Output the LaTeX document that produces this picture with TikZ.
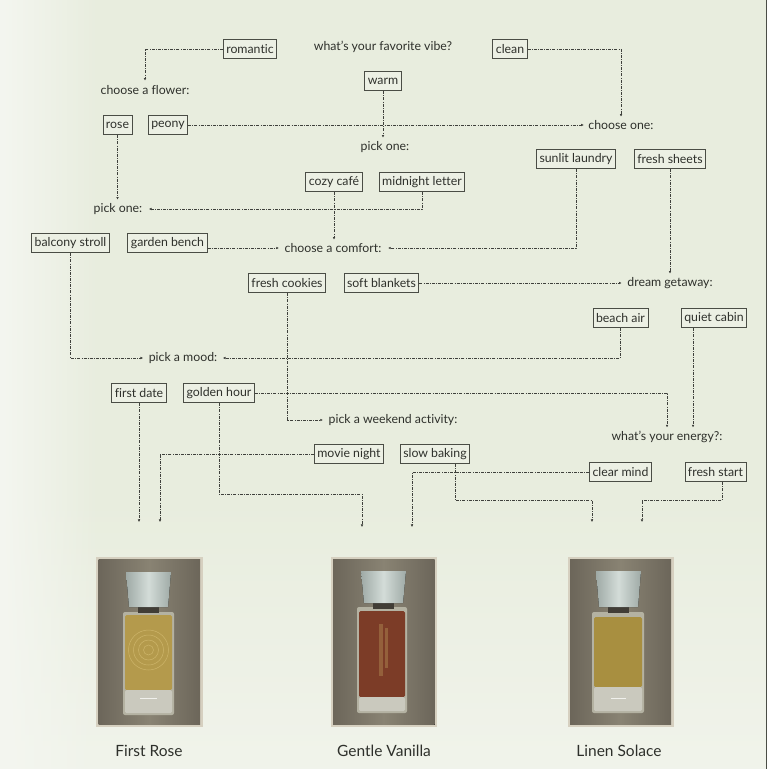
\documentclass[tikz,border=0pt]{standalone}
\usepackage{fontspec}
\setmainfont[Ligatures={TeX,NoCommon}]{Lato}
\usetikzlibrary{arrows.meta,calc,fadings}
\definecolor{bgc}{HTML}{E8EDDE}
\definecolor{bgl}{HTML}{F4F6F0}
\definecolor{txt}{HTML}{2E302B}
\definecolor{boxd}{HTML}{4A4D45}
\definecolor{boxf}{HTML}{ECF0E4}
\definecolor{lnc}{HTML}{3F413C}
\definecolor{frl}{HTML}{D6D0C0}
\definecolor{frd}{HTML}{6C665A}
\definecolor{frm}{HTML}{898373}
\definecolor{capl}{HTML}{D3DCD8}
\definecolor{capd}{HTML}{9FAAA6}
\definecolor{glass}{HTML}{B4B2A2}
\definecolor{gold}{HTML}{B49A4C}
\definecolor{goldl}{HTML}{CDB56A}
\definecolor{vanil}{HTML}{7C3C27}
\definecolor{linen}{HTML}{A88F40}
\tikzset{
  lab/.style={font=\fontsize{12.3}{14}\selectfont, text=txt, inner sep=1.5pt},
  opt/.style={draw=boxd, line width=0.9pt, fill=boxf, font=\fontsize{12.3}{14}\selectfont, text=txt, inner xsep=3pt, inner ysep=0pt, minimum height=19.5pt},
  conn/.style={draw=lnc, line width=0.6pt, dash pattern=on 3pt off 1.2pt on 0.8pt off 1.2pt, -{Latex[length=2.6pt,width=2.6pt]}},
  pname/.style={font=\fontsize{15.5}{18}\selectfont, text=txt, inner sep=1pt},
  outerfr/.style={fill=frl},
  innerfr/.style={left color=frd, right color=frd, middle color=frm},
  capst/.style={left color=capd, right color=capd, middle color=capl},
  glassst/.style={fill=glass, rounded corners=2pt}
}
\begin{document}
\begin{tikzpicture}[x=1pt,y=-1pt]
\useasboundingbox (0,0) rectangle (769,769);
% background
\fill[bgc] (0,0) rectangle (769,769);
\fill[top color=bgc, bottom color=bgl!70!bgc] (0,500) rectangle (766,769);
\fill[bgl, path fading=east] (0,0) rectangle (100,769);
\fill[white!94!bgc] (766,0) rectangle (769,769);
\draw[boxd, line width=0.8pt] (766,0) -- (766,769);

% question labels
\node[lab] (vibe) at (383,47) {what's your favorite vibe?};
\node[lab] (flower) at (145,90) {choose a flower:};
\node[lab] (one) at (621,125) {choose one:};
\node[lab] (pickm) at (385,147) {pick one:};
\node[lab] (pickl) at (118,209) {pick one:};
\node[lab] (comfort) at (333,248) {choose a comfort:};
\node[lab] (getaway) at (670,283) {dream getaway:};
\node[lab] (mood) at (183,358) {pick a mood:};
\node[lab] (weekend) at (393,420) {pick a weekend activity:};
\node[lab] (energy) at (667,437) {what's your energy?:};

% option boxes
\node[opt] (romantic) at (250,49) {romantic};
\node[opt] (clean) at (510,49) {clean};
\node[opt] (warm) at (383,81) {warm};
\node[opt] (rose) at (117.5,125) {rose};
\node[opt] (peony) at (168,125) {peony};
\node[opt] (sunlit) at (576,159) {sunlit laundry};
\node[opt] (sheets) at (670,159) {fresh sheets};
\node[opt] (cozy) at (334,182) {cozy café};
\node[opt] (midnight) at (422,182) {midnight letter};
\node[opt] (balcony) at (70.5,243) {balcony stroll};
\node[opt] (garden) at (167.5,243) {garden bench};
\node[opt] (cookies) at (287,283) {fresh cookies};
\node[opt] (blankets) at (381.5,283) {soft blankets};
\node[opt] (beach) at (620.5,318) {beach air};
\node[opt] (cabin) at (714,318) {quiet cabin};
\node[opt] (firstdate) at (139,393) {first date};
\node[opt] (golden) at (219,393) {golden hour};
\node[opt] (movie) at (349,454) {movie night};
\node[opt] (slow) at (435,454) {slow baking};
\node[opt] (clear) at (620.5,472) {clear mind};
\node[opt] (fresh) at (715.5,472) {fresh start};

% end coordinates above products
\coordinate (r1) at (139,522);
\coordinate (r2) at (160,522);
\coordinate (v1) at (362,527);
\coordinate (v2) at (412,527);
\coordinate (l1) at (592,522);
\coordinate (l2) at (642,522);
\coordinate (cabx) at (693,0);
\coordinate (slowx) at (455,0);
\coordinate (freshx) at (722,0);

% connectors
\draw[conn] (romantic.west) -| ($(flower.north)+(0,-3)$);
\draw[conn] (clean.east) -| ($(one.north)+(0,-2)$);
\draw[conn] (warm.south) -- ($(warm.south |- pickm.north)+(0,-2)$);
\draw[conn] (peony.east) -- ($(one.west)+(-3,0)$);
\draw[conn] (rose.south) -- ($(rose.south |- pickl.north)+(0,-2)$);
\draw[conn] (cozy.south) -- ($(cozy.south |- comfort.north)+(0,-2)$);
\draw[conn] (midnight.south) |- ($(pickl.east)+(5,0)$);
\draw[conn] (sunlit.south) |- ($(comfort.east)+(5,0)$);
\draw[conn] (garden.east |- comfort.west) -- ($(comfort.west)+(-4,0)$);
\draw[conn] (sheets.south) -- ($(sheets.south |- getaway.north)+(0,-2)$);
\draw[conn] (blankets.east) -- ($(getaway.west)+(-4,0)$);
\draw[conn] (cookies.south) |- ($(weekend.west)+(-4,0)$);
\draw[conn] (balcony.south) |- ($(mood.west)+(-4,0)$);
\draw[conn] (beach.south) |- ($(mood.east)+(4,0)$);
\draw[conn] (cabx |- cabin.south) -- ($(cabx |- energy.north)+(0,-2)$);
\draw[conn] (golden.east) -| ($(energy.north)+(0,-2)$);
\draw[conn] (golden.south) -- ++(0,91) -| (v1);
\draw[conn] (firstdate.south) -- (r1);
\draw[conn] (movie.west) -| (r2);
\draw[conn] (slowx |- slow.south) -- ++(0,36) -| (l1);
\draw[conn] (clear.west) -| (v2);
\draw[conn] (freshx |- fresh.south) -- ++(0,18) -| (l2);

% ---- product 1: First Rose
\fill[outerfr] (96,557) rectangle (202.5,727);
\fill[innerfr] (98.5,559.5) rectangle (200,724.5);
\fill[glassst] (123,612) rectangle (174,715);
\fill[gold, rounded corners=1.5pt] (125,615) rectangle (172,690);
\foreach \r in {5,10,15,20}
  \draw[goldl, line width=0.5pt] (148.5,650) circle[radius=\r];
\fill[glass!70!white, rounded corners=1.5pt] (125,690) rectangle (172,713);
\fill[frd!60!black] (138,606) rectangle (159,613);
\fill[capst] (126,572) -- (171,572) -- (168,607) -- (129,607) -- cycle;
\draw[white!80!glass, line width=0.4pt] (140,698) -- (157,698);
\node[pname] (p1) at (149,751) {First Rose};

% ---- product 2: Gentle Vanilla
\fill[outerfr] (330.5,557) rectangle (437,727);
\fill[innerfr] (333,559.5) rectangle (434.5,724.5);
\fill[glassst] (357,607) rectangle (407,713);
\fill[vanil, rounded corners=1.5pt] (359,611) rectangle (405,697);
\fill[vanil!70!goldl] (379,624) rectangle (383,676);
\fill[vanil!70!goldl] (385,628) rectangle (388,668);
\fill[glass!70!white, rounded corners=1.5pt] (359,697) rectangle (405,711);
\fill[frd!60!black] (373,602) rectangle (394,609);
\fill[capst] (361,571) -- (406,571) -- (403,603) -- (364,603) -- cycle;
\node[pname] (p2) at (384,751) {Gentle Vanilla};

% ---- product 3: Linen Solace
\fill[outerfr] (567.5,557) rectangle (673.5,726.5);
\fill[innerfr] (570,559.5) rectangle (671,724);
\fill[glassst] (592,612) rectangle (644,713);
\fill[linen, rounded corners=1.5pt] (594,617) rectangle (642,687);
\fill[glass!70!white, rounded corners=1.5pt] (594,687) rectangle (642,711);
\fill[frd!60!black] (608,606) rectangle (629,613);
\fill[capst] (596,571) -- (641,571) -- (638,607) -- (599,607) -- cycle;
\draw[white!80!glass, line width=0.4pt] (611,698) -- (626,698);
\node[pname] (p3) at (619,751) {Linen Solace};
\end{tikzpicture}
\end{document}
